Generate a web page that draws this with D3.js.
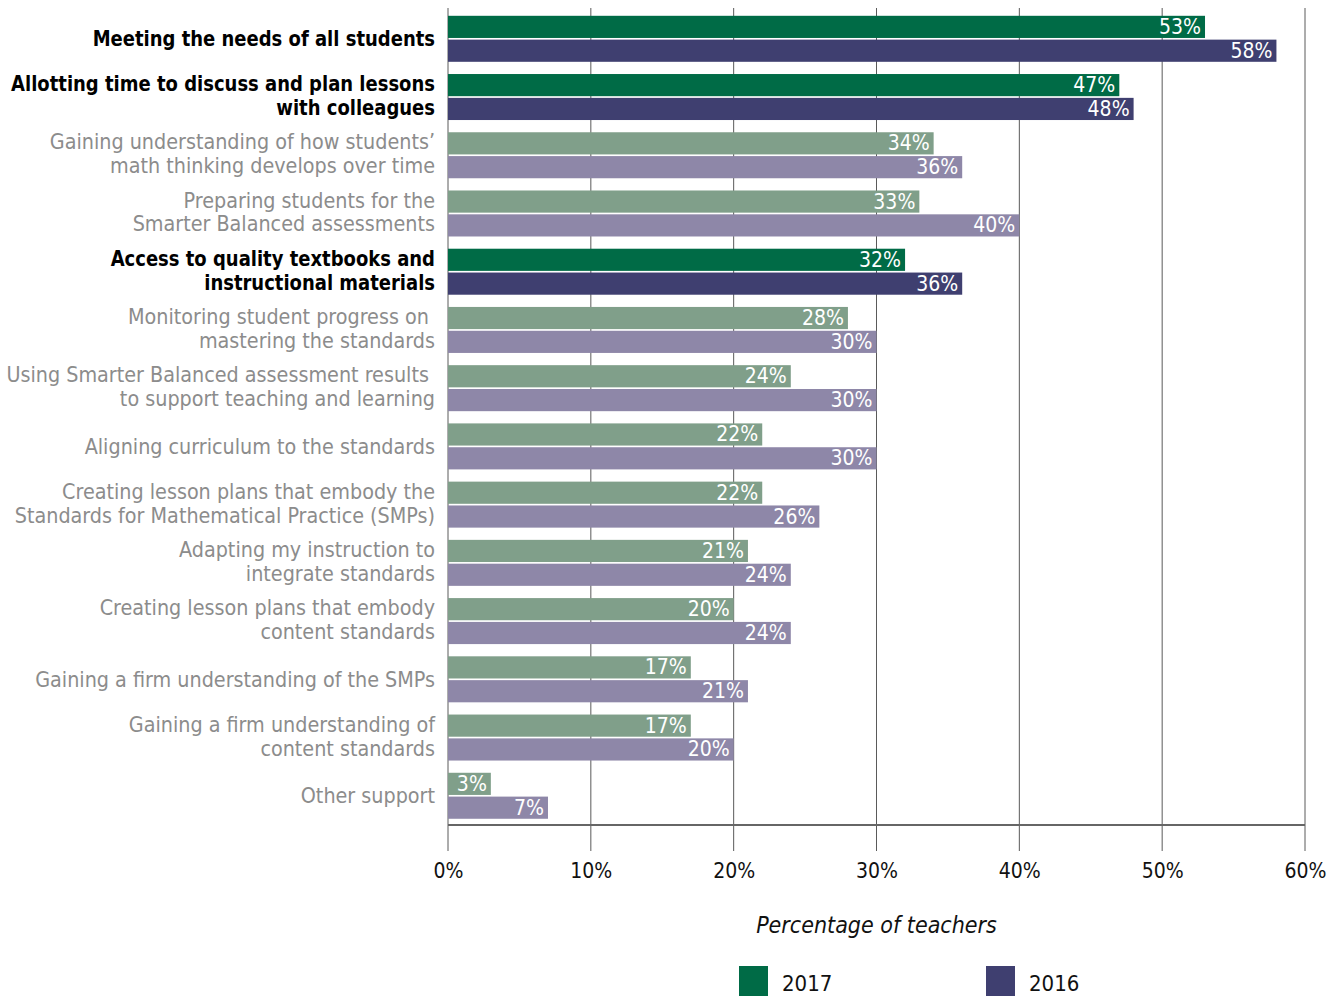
<!DOCTYPE html>
<html>
<head>
<meta charset="utf-8">
<script src="https://cdn.jsdelivr.net/npm/d3@7"></script>
<style>
  html, body { margin: 0; padding: 0; background: #fff; }
  svg { display: block; font-family: "DejaVu Sans Condensed", "Liberation Sans Narrow", "Roboto", sans-serif; }
</style>
</head>
<body>
<svg id="chart" width="1334" height="996"></svg>
<script>
// Support teachers say they need, share of teachers by year
const categories = [
  "Meeting the needs of all students",
  "Allotting time to discuss and plan lessons|with colleagues",
  "Gaining understanding of how students’|math thinking develops over time",
  "Preparing students for the|Smarter Balanced assessments",
  "Access to quality textbooks and|instructional materials",
  "Monitoring student progress on |mastering the standards",
  "Using Smarter Balanced assessment results |to support teaching and learning",
  "Aligning curriculum to the standards",
  "Creating lesson plans that embody the|Standards for Mathematical Practice (SMPs)",
  "Adapting my instruction to|integrate standards",
  "Creating lesson plans that embody|content standards",
  "Gaining a firm understanding of the SMPs",
  "Gaining a firm understanding of|content standards",
  "Other support"
];
const highlighted = [true, true, false, false, true, false, false, false, false, false, false, false, false, false];
const values2017 = [53, 47, 34, 33, 32, 28, 24, 22, 22, 21, 20, 17, 17, 3];
const values2016 = [58, 48, 36, 40, 36, 30, 30, 30, 26, 24, 24, 21, 20, 7];
const seriesNames = ["2017", "2016"];
const xTicks = [0, 10, 20, 30, 40, 50, 60];
const axisTitle = "Percentage of teachers";

const colors = {
  strong: { "2017": "#006b46", "2016": "#3f3f70" },
  muted:  { "2017": "#809f8a", "2016": "#8e87a8" }
};

const svg = d3.select("#chart");

const x = d3.scaleLinear().domain([0, 60]).range([448, 1305]);
const y = d3.scaleBand().domain(categories).range([9.8, 825]);
const ySub = d3.scaleBand().domain(seriesNames).range([6, 52]).paddingInner(0.07);

const rows = categories.map((c, i) => ({
  cat: c, hi: highlighted[i],
  vals: [{ s: "2017", v: values2017[i] }, { s: "2016", v: values2016[i] }]
}));

// vertical gridlines
svg.append("g").selectAll("line").data(xTicks).join("line")
  .attr("x1", d => x(d)).attr("x2", d => x(d))
  .attr("y1", 8).attr("y2", 851)
  .attr("stroke", "#5a5a5a").attr("stroke-width", 1);

// bars
const groups = svg.append("g").selectAll("g").data(rows).join("g")
  .attr("transform", d => `translate(0,${y(d.cat)})`);

groups.selectAll("rect").data(d => d.vals.map(v => ({ ...v, hi: d.hi }))).join("rect")
  .attr("x", x(0))
  .attr("y", d => ySub(d.s))
  .attr("width", d => x(d.v) - x(0))
  .attr("height", ySub.bandwidth())
  .attr("fill", d => (d.hi ? colors.strong : colors.muted)[d.s]);

groups.selectAll("text.val").data(d => d.vals).join("text")
  .attr("class", "val")
  .attr("x", d => x(d.v) - 4)
  .attr("y", d => ySub(d.s) + ySub.bandwidth() / 2 + 1)
  .attr("text-anchor", "end")
  .attr("dominant-baseline", "middle")
  .attr("fill", "#ffffff")
  .attr("font-size", 21)
  .text(d => d.v + "%");

// category labels, squeezed horizontally so the longest line of each weight fits the margin
const labelRight = 435;
const targetWidth = { bold: 424, normal: 429 };
const labelG = svg.append("g").selectAll("g").data(rows).join("g");
const labels = labelG.append("text")
  .attr("text-anchor", "end")
  .attr("font-size", 22)
  .attr("font-weight", d => d.hi ? "bold" : "normal")
  .attr("fill", d => d.hi ? "#000000" : "#8c8c8c");

labels.each(function(d) {
  const lines = d.cat.split("|");
  const t = d3.select(this);
  const centers = lines.length === 1
    ? [y.bandwidth() / 2 + 1]
    : [ySub("2017") + ySub.bandwidth() / 2, ySub("2016") + ySub.bandwidth() / 2];
  lines.forEach((ln, i) => {
    t.append("tspan").attr("x", 0).attr("y", centers[i])
      .attr("dominant-baseline", "middle").text(ln);
  });
});

const maxW = { bold: 0, normal: 0 };
labels.each(function(d) {
  const k = d.hi ? "bold" : "normal";
  d3.select(this).selectAll("tspan").each(function() {
    maxW[k] = Math.max(maxW[k], this.getComputedTextLength());
  });
});
const squeeze = {
  bold: Math.min(1, targetWidth.bold / maxW.bold),
  normal: Math.min(1, targetWidth.normal / maxW.normal)
};
labelG.attr("transform", d =>
  `translate(${labelRight},${y(d.cat)}) scale(${squeeze[d.hi ? "bold" : "normal"]},1)`);

// x axis baseline
svg.append("line")
  .attr("x1", x(0)).attr("x2", x(60)).attr("y1", 825).attr("y2", 825)
  .attr("stroke", "#666").attr("stroke-width", 2);

// tick labels
const xAxis = d3.axisBottom(x).tickValues(xTicks).tickFormat(d => d + "%").tickSize(0).tickPadding(0);
const axG = svg.append("g").attr("transform", "translate(0,863)").call(xAxis);
axG.select(".domain").remove();
axG.selectAll("text")
  .attr("font-size", 21)
  .attr("font-family", "DejaVu Sans Condensed, sans-serif")
  .attr("fill", "#111")
  .attr("dy", "0.71em");

// axis title
svg.append("text")
  .attr("x", x(30)).attr("y", 933)
  .attr("text-anchor", "middle")
  .attr("font-size", 23)
  .attr("font-style", "italic")
  .attr("fill", "#111")
  .text(axisTitle);

// legend
const legendX = [739, 986];
const legend = svg.append("g").selectAll("g").data(seriesNames).join("g")
  .attr("transform", (d, i) => `translate(${legendX[i]},966)`);
legend.append("rect").attr("width", 29).attr("height", 34)
  .attr("fill", d => colors.strong[d]);
legend.append("text").attr("x", 43).attr("y", 25)
  .attr("font-size", 22).attr("fill", "#111").text(d => d);
</script>
</body>
</html>
